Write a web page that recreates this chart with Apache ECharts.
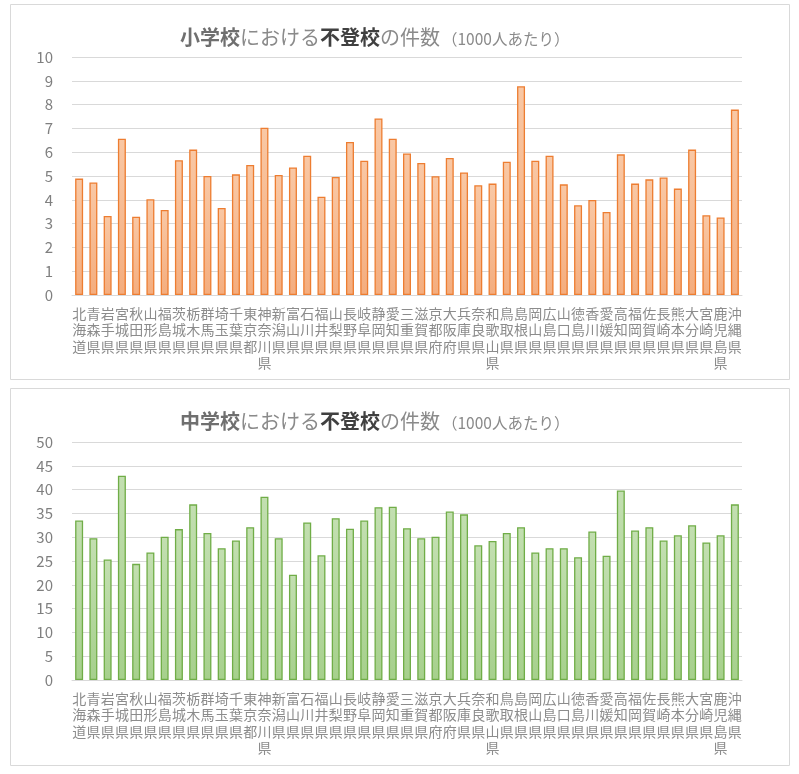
<!DOCTYPE html>
<html style="height: 100%">
<head>
    <meta charset="UTF-8">
    <title>不登校の件数</title>
    <script src="https://cdn.jsdelivr.net/npm/echarts@6/dist/echarts.min.js"></script>
</head>
<body style="height: 100%; margin: 0; background: #fff">
    <div id="main" style="width: 799px; height: 774px"></div>
    <script type="text/javascript">
        // 都道府県
        const prefectures = [
            '北海道', '青森県', '岩手県', '宮城県', '秋田県', '山形県', '福島県',
            '茨城県', '栃木県', '群馬県', '埼玉県', '千葉県', '東京都', '神奈川県',
            '新潟県', '富山県', '石川県', '福井県', '山梨県', '長野県', '岐阜県',
            '静岡県', '愛知県', '三重県', '滋賀県', '京都府', '大阪府', '兵庫県',
            '奈良県', '和歌山県', '鳥取県', '島根県', '岡山県', '広島県', '山口県',
            '徳島県', '香川県', '愛媛県', '高知県', '福岡県', '佐賀県', '長崎県',
            '熊本県', '大分県', '宮崎県', '鹿児島県', '沖縄県'
        ];

        // 小学校 (1000人あたり)
        const elementary = [
            4.89, 4.73, 3.32, 6.57, 3.29, 4.02, 3.57,
            5.66, 6.11, 5.00, 3.66, 5.07, 5.46, 7.03,
            5.04, 5.36, 5.85, 4.13, 4.96, 6.43, 5.64,
            7.42, 6.57, 5.95, 5.55, 4.99, 5.76, 5.15,
            4.61, 4.68, 5.60, 8.77, 5.64, 5.85, 4.65,
            3.77, 3.99, 3.49, 5.91, 4.68, 4.86, 4.94,
            4.47, 6.11, 3.35, 3.26, 7.79
        ];

        // 中学校 (1000人あたり)
        const juniorHigh = [
            33.5, 29.8, 25.3, 42.9, 24.4, 26.8, 30.1,
            31.7, 36.9, 30.9, 27.7, 29.3, 32.1, 38.5,
            29.8, 22.1, 33.1, 26.2, 34.0, 31.8, 33.5,
            36.3, 36.4, 31.9, 29.8, 30.1, 35.4, 34.8,
            28.3, 29.2, 30.9, 32.1, 26.8, 27.7, 27.7,
            25.8, 31.2, 26.1, 39.8, 31.4, 32.1, 29.3,
            30.4, 32.5, 28.9, 30.4, 36.9
        ];

        const font = '"Noto Sans CJK JP", "Noto Sans", sans-serif';
        const verticalNames = prefectures.map(function (p) { return p.split('').join('\n'); });

        const titleRich = {
            b: {fontSize: 20, fontWeight: 'bold', color: '#6f6f6f', fontFamily: font},
            d: {fontSize: 20, fontWeight: 'bold', color: '#404040', fontFamily: font},
            n: {fontSize: 20, fontWeight: 'normal', color: '#8a8a8a', fontFamily: font},
            s: {fontSize: 15.5, fontWeight: 'normal', color: '#8a8a8a', fontFamily: font, padding: [4, 0, 0, 2]}
        };

        function xAxis(gridIndex) {
            return {
                type: 'category',
                gridIndex: gridIndex,
                data: verticalNames,
                axisLine: {lineStyle: {color: '#d9d9d9'}},
                axisTick: {show: false},
                axisLabel: {
                    interval: 0, margin: 10, fontSize: 14, lineHeight: 16.5,
                    color: '#8c8c8c', fontFamily: font
                }
            };
        }

        function yAxis(gridIndex, max, interval) {
            return {
                type: 'value',
                gridIndex: gridIndex,
                min: 0, max: max, interval: interval,
                axisLine: {show: false},
                axisTick: {show: false},
                splitLine: {lineStyle: {color: '#d9d9d9'}},
                axisLabel: {margin: 19, fontSize: 15, color: '#7f7f7f', fontFamily: font}
            };
        }

        function gradient(top, bottom) {
            return new echarts.graphic.LinearGradient(0, 0, 0, 1, [
                {offset: 0, color: top},
                {offset: 1, color: bottom}
            ]);
        }

        const myChart = echarts.init(document.getElementById('main'));
        myChart.setOption({
            animation: false,
            title: [
                {text: '{b|小学校}{n|における}{d|不登校}{n|の件数}{s|（1000人あたり）}', left: 175, top: 22, textStyle: {fontWeight: 'normal', rich: titleRich}},
                {text: '{b|中学校}{n|における}{d|不登校}{n|の件数}{s|（1000人あたり）}', left: 175, top: 406, textStyle: {fontWeight: 'normal', rich: titleRich}}
            ],
            graphic: [
                {type: 'rect', shape: {x: 10.5, y: 4.5, width: 779, height: 375}, style: {fill: 'none', stroke: '#d9d9d9', lineWidth: 1}},
                {type: 'rect', shape: {x: 10.5, y: 388.5, width: 779, height: 377}, style: {fill: 'none', stroke: '#d9d9d9', lineWidth: 1}}
            ],
            grid: [
                {left: 72, right: 57, top: 57, height: 238},
                {left: 72, right: 57, top: 442, height: 238}
            ],
            xAxis: [xAxis(0), xAxis(1)],
            yAxis: [yAxis(0, 10, 1), yAxis(1, 50, 5)],
            series: [
                {
                    name: '小学校',
                    type: 'bar',
                    xAxisIndex: 0, yAxisIndex: 0,
                    barCategoryGap: '44%',
                    data: elementary,
                    itemStyle: {color: gradient('#f9c8a5', '#f4ad7e'), borderColor: '#ed7d31', borderWidth: 1.3}
                },
                {
                    name: '中学校',
                    type: 'bar',
                    xAxisIndex: 1, yAxisIndex: 1,
                    barCategoryGap: '44%',
                    data: juniorHigh,
                    itemStyle: {color: gradient('#c3dfb1', '#a6d08c'), borderColor: '#70ad47', borderWidth: 1.3}
                }
            ]
        });
    </script>
</body>
</html>
